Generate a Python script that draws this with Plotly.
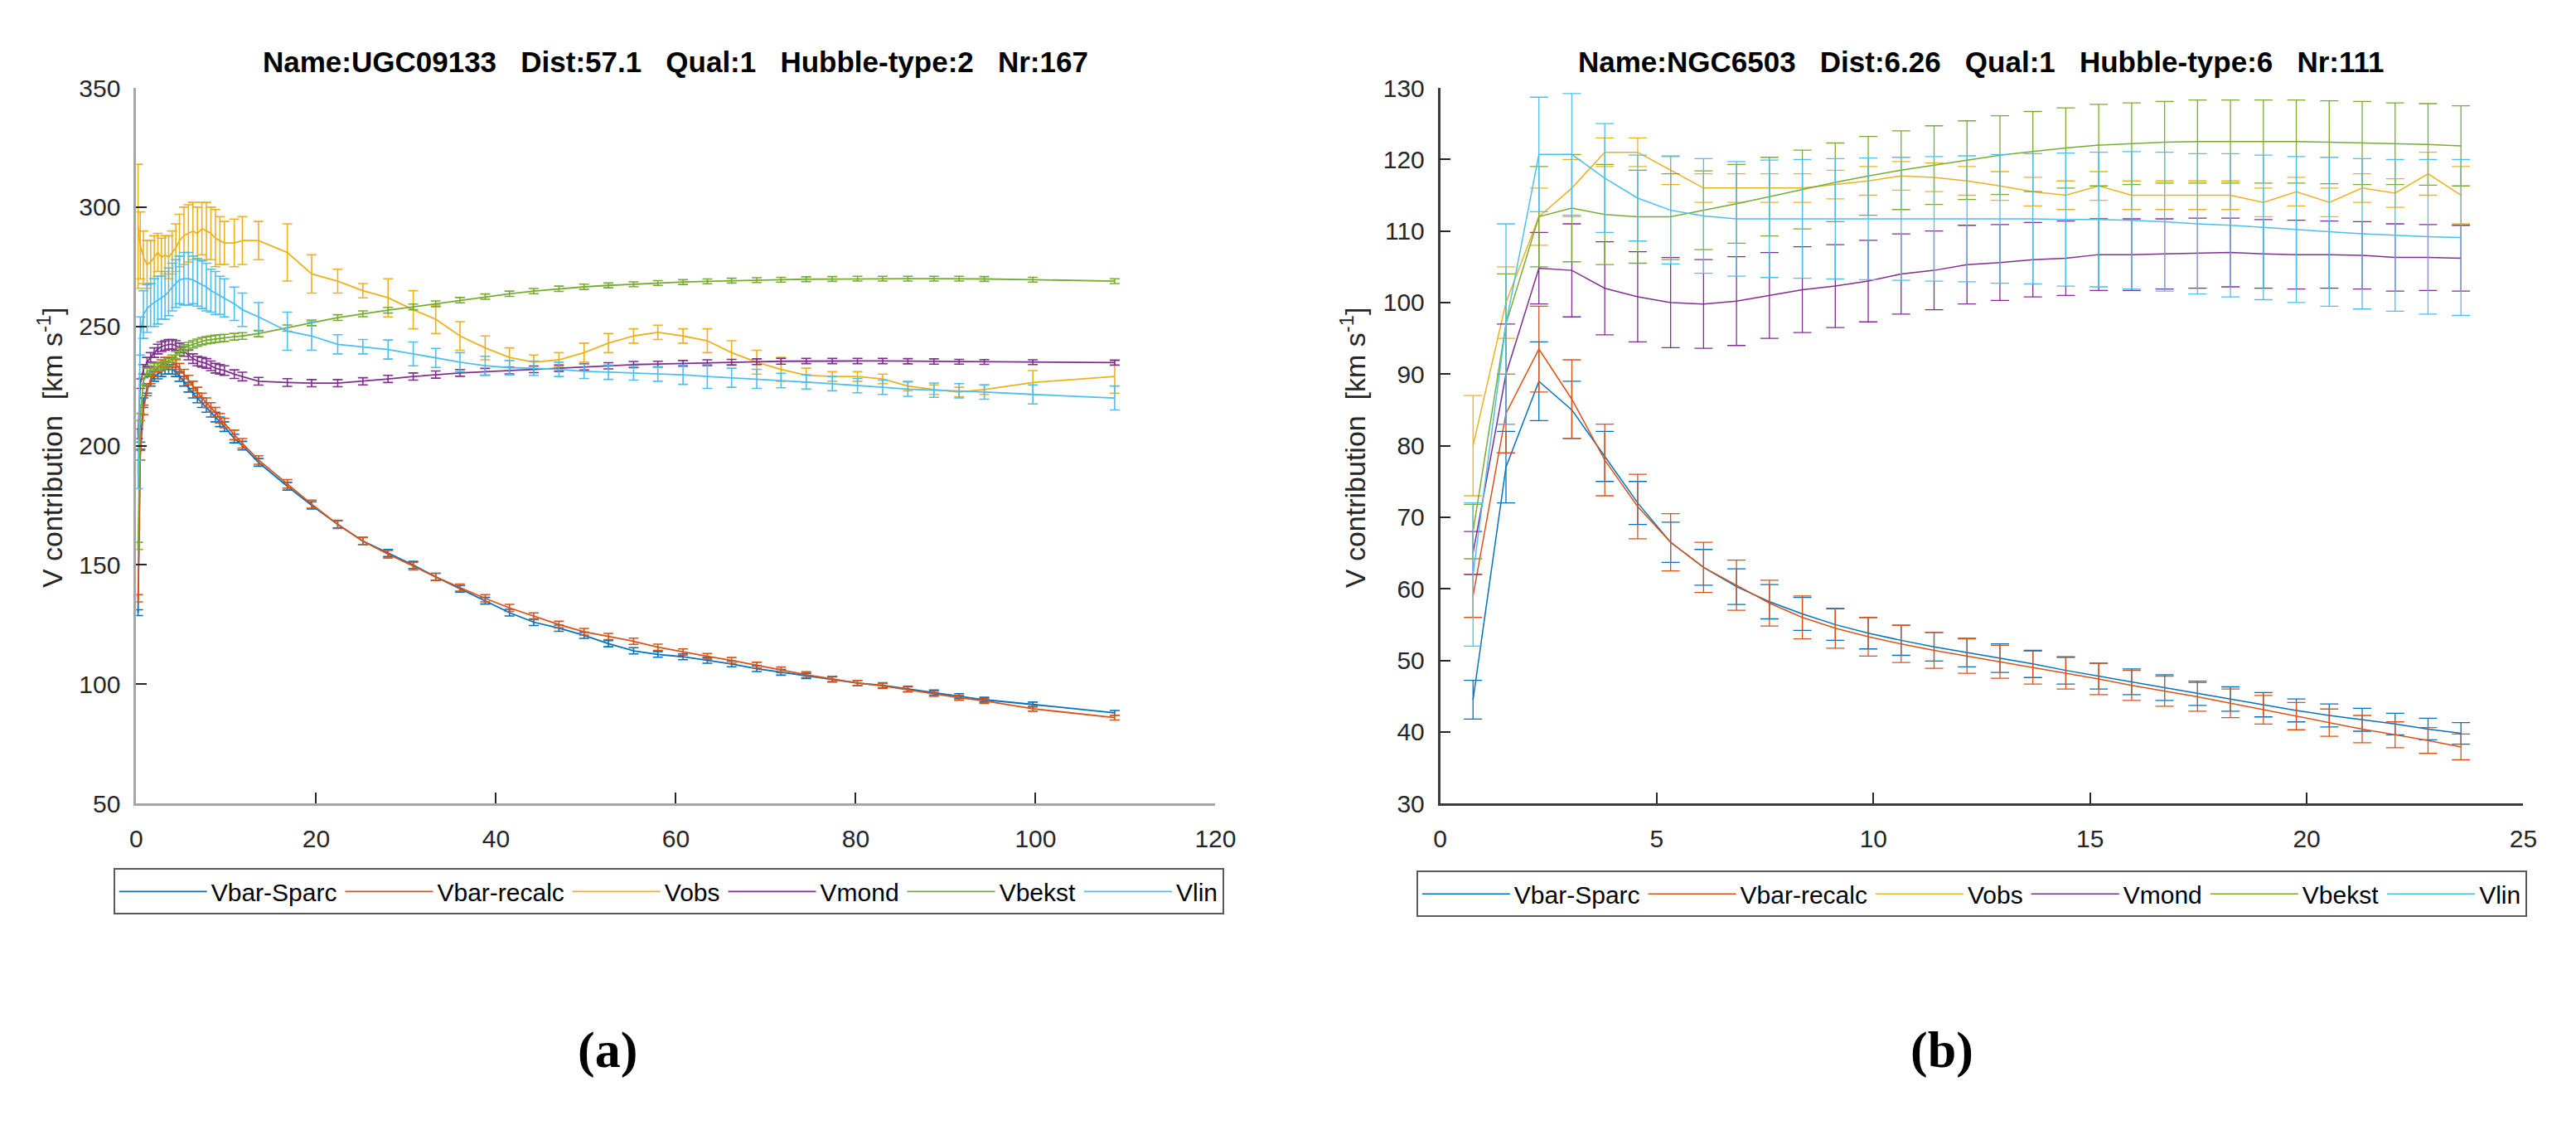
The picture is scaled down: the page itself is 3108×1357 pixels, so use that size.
import plotly.graph_objects as go

names = ["Vbar-Sparc", "Vbar-recalc", "Vobs", "Vmond", "Vbekst", "Vlin"]
colors = ["#0072BD", "#D95319", "#EDB120", "#7E2F8E", "#77AC30", "#4DBEEE"]

# (a) UGC09133 - radius in kpc, velocities in km/s
r_a = [0.2, 0.45, 0.8, 1.2, 1.6, 2.0, 2.4, 2.8, 3.2, 3.6, 4.0, 4.4, 4.8, 5.3, 5.8, 6.3, 6.8, 7.3, 7.8,
       8.3, 8.8, 9.3, 9.8, 10.9, 11.8, 13.6, 16.8, 19.5, 22.4, 25.2, 28.0, 30.8, 33.3, 36.0, 38.8,
       41.5, 44.2, 47.0, 49.8, 52.5, 55.3, 58.0, 60.8, 63.5, 66.2, 69.0, 71.7, 74.5, 77.4, 80.2,
       83.0, 85.8, 88.7, 91.5, 94.3, 99.7, 108.8]
vbar_sparc_a = [130, 200, 218, 224, 227, 229, 230, 231, 232, 232, 232, 231, 229, 227, 224.5, 222, 220,
                218, 216, 214, 212, 210, 208, 203, 200, 193, 183, 175, 167, 160, 155, 150, 145, 140,
                135, 130, 126, 123.5, 120.5, 117, 114, 112.5, 111.5, 110, 108.5, 106.5, 105, 103.5,
                102, 100.5, 99.5, 98, 96.5, 95, 93.5, 91.5, 88]
vbar_recalc_a = [136, 196, 215, 223, 228, 231, 233, 234, 235, 235, 235, 234, 232.5, 230, 227.5, 225,
                 222.5, 220, 218, 216, 214, 211.5, 209.5, 204.5, 201, 194, 184, 175.5, 167, 160,
                 154.5, 149.5, 145, 140.5, 136, 132, 128.5, 125, 122, 120, 118, 115.5, 113.5, 111.7,
                 110, 108, 106, 104, 102.2, 100.5, 99.3, 97.8, 96, 94.3, 93, 89.7, 86]
vobs_a = [292, 284, 279, 276, 277, 279, 281, 279, 280, 279, 281, 283, 286, 288, 289, 290, 289, 291,
          290, 289, 287, 286, 285, 285, 286, 286, 281, 272, 269, 265, 262, 257, 253, 246, 241, 237,
          235, 236, 239, 243, 246, 247.5, 246, 244, 239, 235, 232, 229.5, 229, 229, 228, 225, 223.5,
          222.5, 223.5, 226.5, 229]
vmond_a = [205, 226, 232, 235, 237, 239, 240.5, 241.5, 242, 242.5, 242.5, 242, 241, 239.5, 238, 236.5,
           235.5, 235, 234.5, 233.5, 232.5, 232, 231.5, 230, 229, 227, 226.5, 226.2, 226.2, 227, 228,
           229, 229.8, 230.5, 231, 231.5, 232, 232.5, 233, 233.5, 234, 234.2, 234.5, 234.8, 235,
           235.2, 235.4, 235.5, 235.5, 235.5, 235.5, 235.4, 235.3, 235.2, 235.1, 235, 234.8]
vbekst_a = [158, 212, 227, 231, 232, 233, 233, 233.5, 234, 235, 236.5, 238, 239.5, 240.8, 241.8, 242.5,
            243.2, 243.8, 244.2, 244.5, 244.8, 245, 245.2, 245.7, 246, 247, 249.3, 251.5, 253.7,
            255.3, 256.8, 258.2, 259.5, 261, 262.5, 263.7, 264.8, 265.8, 266.6, 267.2, 267.7, 268.2,
            268.6, 268.9, 269.2, 269.4, 269.6, 269.8, 269.9, 270, 270, 270, 270, 270, 269.9, 269.6, 269]
vlin_a = [188, 246, 255, 257.5, 259, 260, 261, 262, 263, 264.5, 266.5, 268, 269.5, 270, 270, 269.5,
          268.5, 267.5, 266.5, 265, 264, 263, 262, 259.5, 257, 254, 248, 246, 242.5, 241.5, 240.3,
          238.5, 236.8, 235, 233.5, 232.7, 232.5, 232, 231.2, 230.8, 230.5, 230, 229.7, 229, 228.5,
          228, 227.3, 226.7, 226, 225.2, 224.5, 223.7, 223.3, 223, 222.5, 221.5, 220]

err_sparc_a = [1.2, 1.5, 2, 2, 2, 2, 2, 2, 2, 2, 2, 2, 2, 2, 2, 2, 2, 2, 2, 2, 2, 2, 2, 1.8, 1.8, 1.6,
               1.6, 1.5, 1.5, 1.5, 1.5, 1.5, 1.5, 1.4, 1.4, 1.4, 1.4, 1.3, 1.3, 1.3, 1.3, 1.2, 1.2,
               1.2, 1.2, 1.2, 1.2, 1.1, 1.1, 1.1, 1.1, 1.1, 1.1, 1, 1, 1, 1]
err_recalc_a = [1.5, 2, 2, 2, 2, 2, 2, 2, 2, 2, 2, 2, 2, 2, 2, 2, 2, 2, 2, 2, 2, 2, 2, 2, 2, 1.8, 1.8,
                1.7, 1.7, 1.6, 1.6, 1.6, 1.5, 1.5, 1.5, 1.5, 1.4, 1.4, 1.4, 1.3, 1.3, 1.3, 1.3, 1.2,
                1.2, 1.2, 1.2, 1.2, 1.1, 1.1, 1.1, 1.1, 1.1, 1, 1, 1, 1]
err_obs_a = [26, 14, 11, 10, 9, 9, 8, 8, 8, 9, 9, 10, 11, 12, 12, 12, 11, 11, 12, 11, 12, 10, 9, 10,
             10, 8, 12, 8, 5, 3, 8, 8, 6, 6, 5, 4, 3, 3, 4, 4, 3, 3, 3, 5, 5, 5, 5, 3, 2, 2, 2, 2,
             2, 2, 2, 5, 7]
err_mond_a = [2, 2, 2, 2, 2, 2, 2, 2, 2, 2, 2, 2, 2, 2, 2, 2, 2, 2, 2, 2, 2, 2, 2, 1.8, 1.8, 1.6,
              1.6, 1.5, 1.5, 1.5, 1.5, 1.5, 1.5, 1.4, 1.4, 1.4, 1.4, 1.3, 1.3, 1.3, 1.3, 1.2, 1.2,
              1.2, 1.2, 1.2, 1.2, 1.1, 1.1, 1.1, 1.1, 1.1, 1.1, 1, 1, 1, 1]
err_bekst_a = [1.5, 1.5, 1.5, 1.5, 1.5, 1.5, 1.5, 1.5, 1.5, 1.5, 1.5, 1.5, 1.5, 1.5, 1.5, 1.5, 1.5,
               1.5, 1.5, 1.5, 1.5, 1.5, 1.5, 1.4, 1.4, 1.3, 1.3, 1.2, 1.2, 1.2, 1.2, 1.2, 1.2, 1.1,
               1.1, 1.1, 1.1, 1.1, 1.1, 1, 1, 1, 1, 1, 1, 1, 1, 1, 1, 1, 1, 1, 1, 1, 1, 1, 1]
err_lin_a = [6, 8, 10, 10, 9, 10, 10, 9, 10, 10, 10, 10, 10, 11, 11, 10, 10, 10, 10, 9, 9, 8, 8, 7, 7,
             6, 8, 6, 4, 3, 4, 5, 4, 4, 4, 3, 3, 3, 3, 3, 3, 3, 4, 5, 4, 4, 3, 3, 3, 3, 3, 3, 3, 3, 3,
             4, 5]

# (b) NGC6503
r_b = [0.76, 1.52, 2.28, 3.04, 3.80, 4.56, 5.32, 6.08, 6.84, 7.60, 8.36, 9.12, 9.88, 10.64, 11.40,
       12.16, 12.92, 13.68, 14.44, 15.20, 15.96, 16.72, 17.48, 18.24, 19.00, 19.76, 20.52, 21.28,
       22.04, 22.80, 23.56]
vbar_sparc_b = [44.5, 77, 89, 85, 78.5, 72, 66.5, 63, 60.3, 58.2, 56.5, 55, 53.8, 52.8, 51.9, 51.1,
                50.3, 49.5, 48.6, 47.8, 47.0, 46.2, 45.4, 44.6, 43.8, 43.0, 42.3, 41.7, 41.1, 40.4, 39.8]
vbar_recalc_b = [59, 84.5, 93.5, 86.5, 78, 71.5, 66.5, 63, 60.5, 58, 56, 54.5, 53.3, 52.3, 51.4, 50.6,
                 49.8, 49.0, 48.2, 47.4, 46.5, 45.7, 44.9, 44.0, 43.1, 42.2, 41.3, 40.4, 39.6, 38.8, 37.9]
vobs_b = [80, 100, 112, 116, 121, 121, 118.5, 116, 116, 116, 116, 116.5, 117, 117.7, 117.5, 117, 116.3,
          115.5, 115, 116.3, 115, 115, 115, 115, 114, 115.5, 114, 116, 115.3, 118, 115]
vmond_b = [65, 90, 104.8, 104.5, 102, 100.8, 100, 99.8, 100.2, 101, 101.8, 102.3, 103, 104, 104.5,
           105.3, 105.6, 106, 106.2, 106.7, 106.7, 106.8, 106.9, 107, 106.8, 106.7, 106.7, 106.6,
           106.3, 106.3, 106.2]
vbekst_b = [68, 97, 112, 113.2, 112.3, 112, 112, 112.9, 113.8, 114.8, 115.8, 116.8, 117.7, 118.5,
            119.2, 119.9, 120.6, 121.1, 121.6, 122.0, 122.2, 122.4, 122.5, 122.5, 122.5, 122.5, 122.4,
            122.3, 122.2, 122.1, 121.9]
vlin_b = [62, 97, 120.7, 120.7, 117.4, 114.6, 112.9, 112.1, 111.7, 111.7, 111.7, 111.7, 111.7, 111.7,
          111.7, 111.7, 111.7, 111.7, 111.6, 111.6, 111.5, 111.3, 111.0, 110.8, 110.5, 110.2, 109.9,
          109.6, 109.4, 109.2, 109.1]

err_sparc_b = [2.7, 5, 5.5, 4, 3.5, 3, 2.8, 2.5, 2.5, 2.4, 2.3, 2.2, 2.2, 2.1, 2.0, 2.0, 2.0, 1.9,
               1.9, 1.8, 1.8, 1.8, 1.7, 1.7, 1.7, 1.6, 1.6, 1.6, 1.5, 1.5, 1.5]
err_recalc_b = [3, 5.5, 6, 5.5, 5, 4.5, 4, 3.5, 3.5, 3.2, 3, 2.8, 2.7, 2.6, 2.5, 2.4, 2.3, 2.3, 2.2,
                2.2, 2.1, 2.1, 2, 2, 2, 1.9, 1.9, 1.9, 1.8, 1.8, 1.8]
err_obs_b = [7, 5, 4, 4, 2, 2, 2, 2, 2, 2, 2, 2, 2, 2, 2, 2, 2, 2, 2, 2, 2, 2, 2, 2, 2, 2, 2, 2, 2,
             3, 4]
err_mond_b = [3, 7, 5, 6.5, 6.5, 6.3, 6.3, 6.2, 6.2, 6, 6, 5.8, 5.7, 5.6, 5.5, 5.5, 5.3, 5.2, 5.2, 5,
              5, 4.9, 4.9, 4.8, 4.8, 4.8, 4.7, 4.7, 4.7, 4.6, 4.6]
err_bekst_b = [3.8, 7, 7, 7.5, 7, 6.5, 6, 5.5, 5.5, 5.5, 5.5, 5.5, 5.5, 5.5, 5.5, 5.5, 5.5, 5.6, 5.6,
               5.7, 5.7, 5.7, 5.8, 5.8, 5.8, 5.8, 5.8, 5.8, 5.7, 5.7, 5.6]
err_lin_b = [10, 14, 8, 8.5, 7.6, 6, 7.5, 8, 8, 8.2, 8.3, 8.4, 8.5, 8.6, 8.7, 8.8, 9, 9.1, 9.3, 9.4,
             9.6, 9.7, 9.8, 10, 10.1, 10.2, 10.4, 10.5, 10.6, 10.8, 10.9]

series_a = [vbar_sparc_a, vbar_recalc_a, vobs_a, vmond_a, vbekst_a, vlin_a]
errors_a = [err_sparc_a, err_recalc_a, err_obs_a, err_mond_a, err_bekst_a, err_lin_a]
series_b = [vbar_sparc_b, vbar_recalc_b, vobs_b, vmond_b, vbekst_b, vlin_b]
errors_b = [err_sparc_b, err_recalc_b, err_obs_b, err_mond_b, err_bekst_b, err_lin_b]

W, H = 3108, 1357
FONT = "Liberation Sans, Arial, Helvetica, sans-serif"
GAP = "\u00a0\u00a0\u00a0"

fig = go.Figure()

for name, col, ys, es in zip(names, colors, series_a, errors_a):
    fig.add_trace(go.Scatter(
        x=r_a, y=ys, name=name, mode="lines", xaxis="x", yaxis="y", legend="legend",
        line=dict(color=col, width=1.8),
        error_y=dict(type="data", array=es, visible=True, color=col, thickness=1.6, width=6),
    ))

for name, col, ys, es in zip(names, colors, series_b, errors_b):
    fig.add_trace(go.Scatter(
        x=r_b, y=ys, name=name, mode="lines", xaxis="x2", yaxis="y2", legend="legend2",
        line=dict(color=col, width=1.5),
        error_y=dict(type="data", array=es, visible=True, color=col, thickness=1.3, width=11),
    ))


def axis(domain, rng, dtick, linecolor, anchor, lw):
    return dict(
        domain=domain, range=rng, dtick=dtick, tick0=0, anchor=anchor,
        showline=True, linecolor=linecolor, linewidth=lw, mirror=False,
        ticks="inside", ticklen=13, tickwidth=2, tickcolor="#262626",
        showgrid=False, zeroline=False,
        tickfont=dict(family=FONT, size=30, color="#262626"),
    )


ydom = [(H - 968) / H, (H - 84) / H]
xa = axis([150 / W, 1466 / W], [0, 120], 20, "#a6a6a6", "y", 3)
ya = axis(ydom, [50, 350], 50, "#a6a6a6", "x", 3)
xb = axis([1740 / W, 3061 / W], [0, 25], 5, "#3c3c3c", "y2", 2.5)
yb = axis(ydom, [30, 130], 10, "#3c3c3c", "x2", 2.5)
xa["ticklabelstandoff"] = 14
xb["ticklabelstandoff"] = 14
ya["ticklabelstandoff"] = 10
yb["ticklabelstandoff"] = 10

legend_style = dict(
    orientation="h", xanchor="left", yanchor="top",
    bgcolor="white", bordercolor="#595959", borderwidth=2,
    font=dict(family=FONT, size=30, color="black"), itemwidth=106,
)

titles = [
    (GAP.join(["Name:UGC09133", "Dist:57.1", "Qual:1", "Hubble-type:2", "Nr:167"]), 808),
    (GAP.join(["Name:NGC6503", "Dist:6.26", "Qual:1", "Hubble-type:6", "Nr:111"]), 2400),
]
annotations = []
for text, cx in titles:
    annotations.append(dict(
        text="<b>" + text + "</b>", x=cx / W, y=(H - 52) / H, xref="paper", yref="paper",
        showarrow=False, xanchor="center", yanchor="middle",
        font=dict(family=FONT, size=35, color="black"),
    ))
for cx in (45, 1634):
    annotations.append(dict(
        text="V contribution\u00a0\u00a0[km s<sup>-1</sup>]", x=cx / W, y=(H - 528) / H,
        xref="paper", yref="paper", showarrow=False, textangle=-90,
        xanchor="center", yanchor="middle",
        font=dict(family=FONT, size=34, color="#262626"),
    ))
for text, cx in (("(a)", 725), ("(b)", 2352)):
    annotations.append(dict(
        text="<b>" + text + "</b>", x=cx / W, y=(H - 1273) / H, xref="paper", yref="paper",
        showarrow=False, xanchor="center", yanchor="middle",
        font=dict(family="Liberation Serif, Times New Roman, serif", size=62, color="black"),
    ))

fig.update_layout(
    width=W, height=H, margin=dict(l=0, r=0, t=0, b=0),
    paper_bgcolor="white", plot_bgcolor="white",
    xaxis=xa, yaxis=ya, xaxis2=xb, yaxis2=yb,
    legend=dict(legend_style, x=122 / W, y=(H - 1048) / H),
    legend2=dict(legend_style, x=1711 / W, y=(H - 1051) / H),
    annotations=annotations,
    showlegend=True,
)

fig.write_html("out.html")
